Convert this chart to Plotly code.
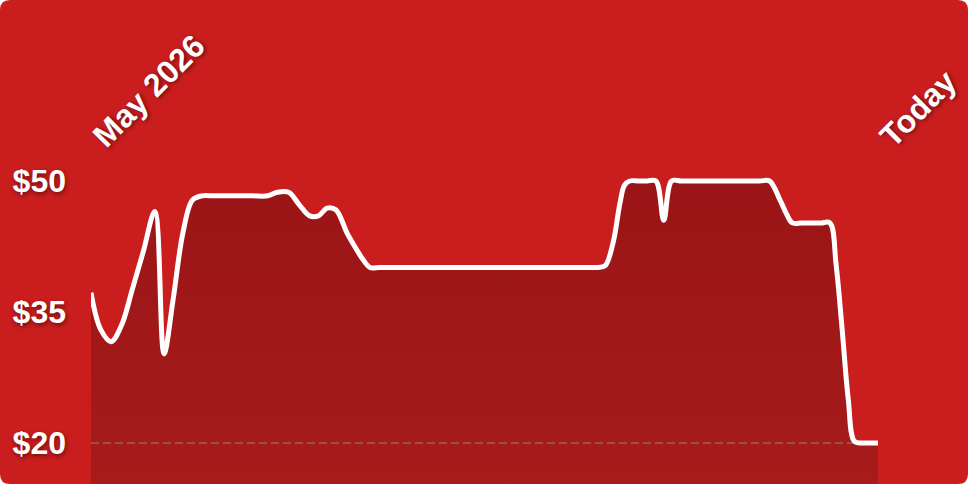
import plotly.graph_objects as go

# price history, days since start of May 2026
days = [0, 1.1, 2.3, 3.5, 4.7, 6.0, 7.3, 8.35, 9.4, 10.5, 11.6, 12.7,
        14.0, 15.5, 17.0, 18.5, 20.2, 21.3, 22.6, 23.8, 25.0, 26.0, 27.0, 28.0,
        29.3, 30.4, 31.1, 31.9,
        33, 34.5, 36, 38, 40, 42, 44, 46, 48, 50, 52, 54, 55.5, 57, 58.0, 58.8,
        59.7, 60.5, 61.0, 61.6, 62.6, 63.6, 64.6, 65.5, 66.4,
        67.5, 69, 70.5, 72, 73.5, 75, 76.5, 77.6, 78.8, 79.6, 80.2,
        81.3, 82.4, 83.5, 84.5, 85.2, 85.9, 86.6, 87.3, 88.2, 89.1, 90]
prices = [37.2, 33.0, 31.6, 33.5, 37.5, 42.0, 46.5, 30.2, 36.5, 44.0, 47.8, 48.3,
          48.3, 48.3, 48.3, 48.3, 48.3, 48.7, 48.7, 47.3, 46.0, 46.0, 46.9, 46.7,
          44.0, 42.1, 41.0, 40.1,
          40.1, 40.1, 40.1, 40.1, 40.1, 40.1, 40.1, 40.1, 40.1, 40.1, 40.1, 40.1, 40.1,
          40.1, 40.1, 40.3,
          42.9, 47.5, 49.5, 50.0, 50.0, 50.0, 50.0, 45.5, 50.0,
          50.0, 50.0, 50.0, 50.0, 50.0, 50.0, 50.0, 50.0, 47.8, 46.1, 45.2,
          45.2, 45.2, 45.2, 45.2, 40.5, 33.0, 25.0, 20.2, 20.0, 20.0, 20.0]

x_tick_text = ["May 2026", "Today"]
y_ticks = [20, 35, 50]
y_tick_text = ["$20", "$35", "$50"]
baseline = 20

W, H = 968, 484
ml, mr, mt, mb = 91, 90, 165, 0
bg = "#C91D1E"
shadow = "1px 2px 4px rgba(0,0,0,0.45)"

fig = go.Figure()
# area under the curve
fig.add_trace(go.Scatter(
    x=days, y=prices, mode="lines",
    line=dict(width=0, shape="spline"),
    fill="tozeroy",
    fillgradient=dict(type="vertical", start=15, stop=50,
                      colorscale=[[0, "#A71B1B"], [1, "#9A1517"]]),
    hoverinfo="skip",
))
# dashed floor line
fig.add_trace(go.Scatter(
    x=[days[0], days[-1]], y=[baseline, baseline], mode="lines",
    line=dict(color="rgba(150,140,140,0.45)", width=2, dash="8px,4px"),
    hoverinfo="skip",
))
# price line
fig.add_trace(go.Scatter(
    x=days, y=prices, mode="lines",
    line=dict(color="white", width=5, shape="spline"),
    hoverinfo="skip",
))

# rounded card behind the chart
pw, ph = W - ml - mr, H - mt - mb
x0, x1 = -ml / pw, (W - ml) / pw
y0, y1 = -mb / ph, (H - mb) / ph
rx, ry = 10 / pw, 10 / ph
path = (f"M {x0+rx},{y1} L {x1-rx},{y1} Q {x1},{y1} {x1},{y1-ry} "
        f"L {x1},{y0+ry} Q {x1},{y0} {x1-rx},{y0} L {x0+rx},{y0} "
        f"Q {x0},{y0} {x0},{y0+ry} L {x0},{y1-ry} Q {x0},{y1} {x0+rx},{y1} Z")
fig.add_shape(type="path", path=path, xref="paper", yref="paper",
              fillcolor=bg, line=dict(width=0), layer="below")

tick_font = dict(family="Liberation Sans, Arial", size=32, color="white",
                 weight="bold", shadow=shadow)

fig.update_layout(
    width=W, height=H,
    margin=dict(l=ml, r=mr, t=mt, b=mb),
    paper_bgcolor="white", plot_bgcolor="rgba(0,0,0,0)",
    showlegend=False,
    xaxis=dict(range=[days[0], days[-1]], side="top", tickangle=-45,
               tickvals=[days[0], days[-1]], ticktext=x_tick_text,
               tickfont=tick_font, showgrid=False, zeroline=False,
               showline=False, ticks="", ticklabelstandoff=4, ticklabelshift=4),
    yaxis=dict(range=[15.3, 51.83], tickvals=y_ticks, ticktext=y_tick_text,
               tickfont=tick_font, showgrid=False, zeroline=False,
               showline=False, ticks="", ticklabelstandoff=24),
)

fig.write_html("out.html", config=dict(displayModeBar=False),
               post_script="document.body.style.margin='0';")
